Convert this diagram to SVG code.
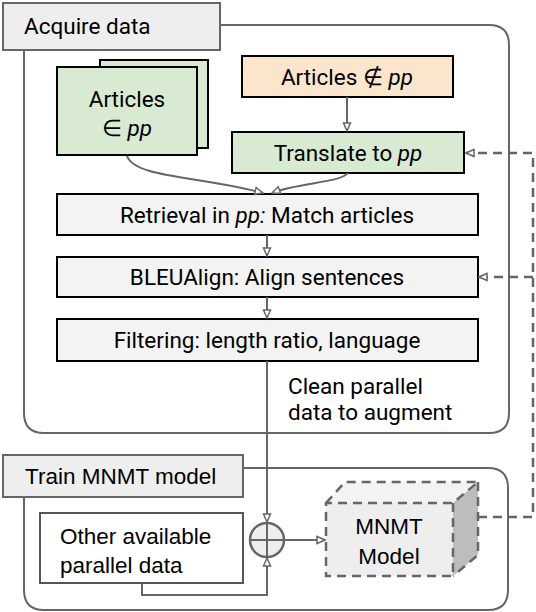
<svg xmlns="http://www.w3.org/2000/svg" width="536" height="612" viewBox="0 0 536 612">
<defs>
<marker id="ah" viewBox="0 0 10 10" refX="9" refY="5" markerWidth="10" markerHeight="10" markerUnits="userSpaceOnUse" orient="auto">
<path d="M1,1.5 L9,5 L1,8.5 Z" fill="#fff" stroke="#666" stroke-width="1.5"/>
</marker>
<style>
.rb{font-family:Roboto,"Liberation Sans",sans-serif;font-size:22.5px;fill:#000}
.ar{font-family:"Liberation Sans",Arial,sans-serif;font-size:22.5px;fill:#000}
.cont{fill:none;stroke:#666;stroke-width:2}
.hdr{fill:#eeeeee;stroke:#666;stroke-width:2}
.box{stroke:#000;stroke-width:2}
.gray{fill:#f3f3f3}
.green{fill:#d9ead3}
.conn{fill:none;stroke:#666;stroke-width:2}
.dash{fill:none;stroke:#666;stroke-width:2.5;stroke-dasharray:9,6}
</style>
</defs>
<rect width="536" height="612" fill="#fff"/>
<g id="acquire-container">
<path class="cont" d="M220,25 H489 Q509,25 509,45 V413 Q509,433 489,433 H44 Q24,433 24,413 V50"/>
</g>
<g id="train-container">
<path class="cont" d="M243,468 H488 Q508,468 508,488 V590 Q508,610 488,610 H44 Q24,610 24,590 V497"/>
</g>
<g id="acquire-header">
<rect class="hdr" x="3" y="3" width="217" height="47"/>
<text class="rb" x="24" y="34">Acquire data</text>
</g>
<g id="train-header">
<rect class="hdr" x="3" y="455" width="240" height="42"/>
<text class="ar" x="25" y="484">Train MNMT model</text>
</g>
<g id="articles-in">
<rect class="box green" x="100" y="60" width="108" height="88"/>
<rect class="box green" x="57" y="67" width="140" height="88"/>
<text class="rb" x="127" y="107" text-anchor="middle">Articles</text>
<text class="rb" x="127" y="136" text-anchor="middle">∈ <tspan font-style="italic">pp</tspan></text>
</g>
<g id="articles-notin">
<rect class="box" fill="#fce5cd" x="242" y="56" width="211" height="41"/>
<text class="rb" x="347" y="85" text-anchor="middle">Articles ∉ <tspan font-style="italic">pp</tspan></text>
</g>
<g id="translate">
<rect class="box green" x="232" y="132" width="232" height="41"/>
<text class="rb" x="348" y="161" text-anchor="middle">Translate to <tspan font-style="italic">pp</tspan></text>
</g>
<g id="retrieval">
<rect class="box gray" x="57" y="194" width="421" height="41"/>
<text class="rb" x="267" y="223" text-anchor="middle">Retrieval in <tspan font-style="italic">pp:</tspan> Match articles</text>
</g>
<g id="bleualign">
<rect class="box gray" x="57" y="257" width="421" height="40"/>
<text class="rb" x="267" y="285" text-anchor="middle">BLEUAlign: Align sentences</text>
</g>
<g id="filtering">
<rect class="box gray" x="57" y="319" width="421" height="42"/>
<text class="rb" x="267" y="348" text-anchor="middle">Filtering: length ratio, language</text>
</g>
<g id="clean-label">
<text class="rb" x="288" y="394">Clean parallel</text>
<text class="rb" x="288" y="420">data to augment</text>
</g>
<g id="other-data">
<rect x="40" y="513" width="203" height="70" fill="#fff" stroke="#555" stroke-width="2"/>
<text class="ar" x="60" y="544">Other available</text>
<text class="ar" x="60" y="573">parallel data</text>
</g>
<g id="combine">
<circle cx="267" cy="540" r="17" fill="#eeeeee" stroke="#666" stroke-width="2.5"/>
<path d="M250,540 H284 M267,523 V557" stroke="#666" stroke-width="2" fill="none"/>
</g>
<g id="mnmt-model">
<polygon points="326,503 345,482 478,482 453,503" fill="#f3f3f3"/>
<polygon points="453,503 478,482 478,555 453,576" fill="#bdbdbd"/>
<rect x="326" y="503" width="127" height="73" fill="#eeeeee"/>
<path class="dash" stroke-width="2" d="M326,503 L345,482 H478 L453,503 H326 V576 H453 V503 M478,482 V555 L453,576"/>
<text class="ar" x="389" y="534" text-anchor="middle">MNMT</text>
<text class="ar" x="389" y="564" text-anchor="middle">Model</text>
</g>
<g id="connectors">
<path class="conn" marker-end="url(#ah)" d="M347,97 V131"/>
<path class="conn" marker-end="url(#ah)" d="M127,156 C135,178 200,176 263,193"/>
<path class="conn" marker-end="url(#ah)" d="M348,173 C340,183 300,182 272,193"/>
<path class="conn" marker-end="url(#ah)" d="M267,235 V256"/>
<path class="conn" marker-end="url(#ah)" d="M267,297 V318"/>
<path class="conn" marker-end="url(#ah)" d="M267,361 V522"/>
<path class="conn" marker-end="url(#ah)" d="M142,583 V595 H267 V558"/>
<path class="conn" marker-end="url(#ah)" d="M284,540 H325"/>
<path class="dash" d="M478,517 H533 V153 H466"/>
<path class="conn" marker-end="url(#ah)" d="M470,153 H466"/>
<path class="dash" d="M533,277 H480"/>
<path class="conn" marker-end="url(#ah)" d="M484,277 H479"/>
</g>
</svg>
